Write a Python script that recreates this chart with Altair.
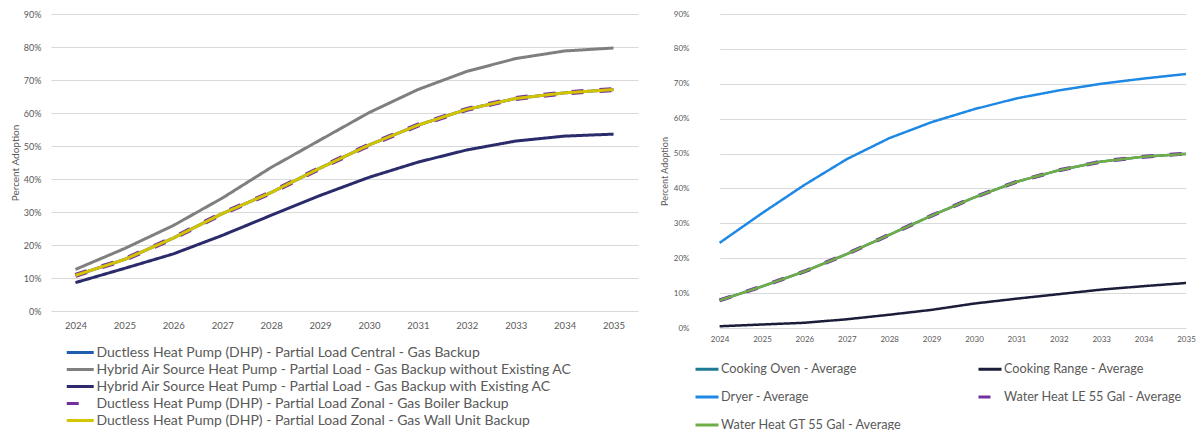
import altair as alt
import pandas as pd

years = ["2024", "2025", "2026", "2027", "2028", "2029", "2030", "2031", "2032", "2033", "2034", "2035"]

# ---- left panel (heat pumps) ----
left_names = [
    "Ductless Heat Pump (DHP) - Partial Load Central - Gas Backup",
    "Hybrid Air Source Heat Pump - Partial Load - Gas Backup without Existing AC",
    "Hybrid Air Source Heat Pump - Partial Load - Gas Backup with Existing AC",
    "Ductless Heat Pump (DHP) - Partial Load Zonal - Gas Boiler Backup",
    "Ductless Heat Pump (DHP) - Partial Load Zonal - Gas Wall Unit Backup",
]
dhp_central = [0.108, 0.156, 0.221, 0.295, 0.359, 0.433, 0.503, 0.563, 0.611, 0.644, 0.661, 0.671]
hybrid_without_ac = [0.126, 0.189, 0.259, 0.342, 0.435, 0.518, 0.601, 0.671, 0.726, 0.765, 0.788, 0.797]
hybrid_with_ac = [0.086, 0.129, 0.173, 0.229, 0.290, 0.350, 0.405, 0.451, 0.488, 0.515, 0.530, 0.536]
dhp_zonal_boiler = [0.108, 0.156, 0.221, 0.295, 0.359, 0.433, 0.503, 0.563, 0.611, 0.644, 0.661, 0.671]
dhp_zonal_wall = [0.108, 0.156, 0.221, 0.295, 0.359, 0.433, 0.503, 0.563, 0.611, 0.644, 0.661, 0.671]
left_values = [dhp_central, hybrid_without_ac, hybrid_with_ac, dhp_zonal_boiler, dhp_zonal_wall]
left_colors = ["#1F5EAC", "#7F7F7F", "#2B2B6B", "#7030A0", "#D4C400"]
left_dash = [[1, 0], [1, 0], [1, 0], [12, 16], [1, 0]]
left_width = [3, 3, 3, 5, 3]
left_legend_order = left_names

# ---- right panel (appliances) ----
right_names = [
    "Cooking Oven - Average",
    "Cooking Range - Average",
    "Dryer - Average",
    "Water Heat LE 55 Gal - Average",
    "Water Heat GT 55 Gal - Average",
]
cooking_oven = [0.079, 0.119, 0.162, 0.212, 0.267, 0.322, 0.374, 0.419, 0.452, 0.477, 0.491, 0.499]
cooking_range = [0.005, 0.010, 0.015, 0.025, 0.038, 0.052, 0.070, 0.084, 0.097, 0.110, 0.120, 0.129]
dryer = [0.244, 0.329, 0.410, 0.484, 0.544, 0.590, 0.627, 0.658, 0.681, 0.700, 0.715, 0.728]
water_le = [0.079, 0.119, 0.162, 0.212, 0.267, 0.322, 0.374, 0.419, 0.452, 0.477, 0.491, 0.500]
water_gt = [0.079, 0.119, 0.162, 0.212, 0.267, 0.322, 0.374, 0.419, 0.452, 0.477, 0.491, 0.499]
right_values = [cooking_oven, cooking_range, dryer, water_le, water_gt]
right_colors = ["#1F7A93", "#1C1D3A", "#1E88E5", "#7030A0", "#70AD47"]
right_dash = [[1, 0], [1, 0], [1, 0], [12, 16], [1, 0]]
right_width = [2.5, 2.5, 2.5, 4, 2.5]
# legend grid fills column by column: this order gives rows (Oven, Range), (Dryer, LE), (GT)
right_legend_order = [right_names[0], right_names[2], right_names[4], right_names[1], right_names[3]]

y_ticks = [0, 0.1, 0.2, 0.3, 0.4, 0.5, 0.6, 0.7, 0.8, 0.9]

FONT = "Lato"
GREY = "#595959"


def long_df(names, values):
    rows = []
    for n, vals in zip(names, values):
        for yr, v in zip(years, vals):
            rows.append({"year": yr, "value": v, "series": n})
    return pd.DataFrame(rows)


def panel(names, values, colors, dashes, widths, order, w, h, xfs, yfs, tfs,
          ylabpad, ytitlepad, yext, xlabpad, xscale, legend):
    df = long_df(names, values)
    cmap = dict(zip(names, colors))
    dash_lookup = dict(zip(names, dashes))
    layers = []
    for n, sw in zip(names, widths):
        layers.append(
            alt.Chart(df)
            .transform_filter(alt.datum.series == n)
            .mark_line(strokeWidth=sw, strokeCap="butt")
            .encode(
                x=alt.X("year:O", sort=years, title=None, scale=xscale,
                        axis=alt.Axis(labelAngle=0, ticks=False, domain=False, grid=False,
                                      labelPadding=xlabpad, labelFontSize=xfs,
                                      labelFont=FONT, labelColor=GREY)),
                y=alt.Y("value:Q", scale=alt.Scale(domain=[0, 0.9], nice=False),
                        title="Percent Adoption",
                        axis=alt.Axis(values=y_ticks, format=".0%", ticks=False, domain=False,
                                      grid=True, gridColor="#D9D9D9", gridWidth=1,
                                      labelFontSize=yfs, labelFont=FONT, labelColor=GREY,
                                      labelPadding=ylabpad, minExtent=yext, maxExtent=yext,
                                      titleFont=FONT, titleFontSize=tfs, titleFontWeight="normal",
                                      titleColor=GREY, titlePadding=ytitlepad)),
                color=alt.Color("series:N",
                                scale=alt.Scale(domain=order, range=[cmap[o] for o in order]),
                                legend=legend),
                strokeDash=alt.StrokeDash("series:N",
                                          scale=alt.Scale(domain=order,
                                                          range=[dash_lookup[o] for o in order]),
                                          legend=legend),
            )
        )
    return alt.layer(*layers).properties(width=w, height=h)


# custom line symbol: runs from the entry's left edge over twice the symbol "diameter"
left_legend = alt.Legend(
    title=None, orient="none", legendX=14, legendY=330, direction="vertical", columns=1,
    symbolType="M-1,0H3", symbolSize=182, symbolStrokeWidth=3,
    labelFont=FONT, labelFontSize=14, labelColor=GREY, labelOffset=14.5,
    rowPadding=1, labelLimit=0,
)
right_legend = alt.Legend(
    title=None, orient="none", legendX=-4, legendY=342, direction="vertical", columns=2,
    symbolType="stroke", symbolSize=529, symbolStrokeWidth=3,
    labelFont=FONT, labelFontSize=12.7, labelColor=GREY, labelOffset=1,
    rowPadding=8, columnPadding=70, labelLimit=0,
)

left = panel(left_names, left_values, left_colors, left_dash, left_width, left_legend_order,
             587, 297, 9.5, 9, 10, 10, 5, 26, 9, alt.Scale(), left_legend)
right = panel(right_names, right_values, right_colors, right_dash, right_width, right_legend_order,
              488, 314, 8, 8, 9, 9, 5, 24, 7,
              alt.Scale(type="point", padding=0, range=[21.6, 488]), right_legend)

chart = (
    alt.hconcat(left, right, spacing=22)
    .resolve_scale(color="independent", strokeDash="independent")
    .properties(padding={"left": 2, "top": 2, "right": 0, "bottom": 0})
    .configure_view(strokeWidth=0)
)

chart.save("out.html", embed_options={"renderer": "svg", "actions": False})
